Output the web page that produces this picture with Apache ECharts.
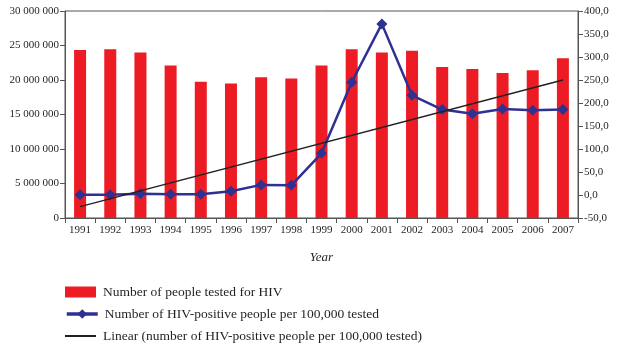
<!DOCTYPE html>
<html>
<head>
<meta charset="utf-8">
<script src="https://cdn.jsdelivr.net/npm/echarts@6/dist/echarts.min.js"></script>
<style>
html,body{margin:0;padding:0;background:#fff;}
#chart{width:620px;height:352px;}
</style>
</head>
<body>
<div id="chart"></div>
<script>
var years = ['1991','1992','1993','1994','1995','1996','1997','1998','1999','2000','2001','2002','2003','2004','2005','2006','2007'];
var testedCounts = [24350000,24450000,24000000,22100000,19750000,19500000,20400000,20200000,22100000,24450000,24000000,24250000,21900000,21600000,21000000,21400000,23150000];
var positivePer100k = [0.5,0.5,2.5,1.5,1.5,8,22,21,90.6,245,372,216.7,185.8,176.5,187,184,185.8];
var trendYears = ['1991','2007'];
var trendValues = [-25.5, 250];
var seriesNames = ['Number of people tested for HIV','Number of HIV-positive people per 100,000 tested','Linear (number of HIV-positive people per 100,000 tested)'];

var FONT = 'Liberation Serif';
var chart = echarts.init(document.getElementById('chart'), null, {renderer:'canvas'});
var axisCol = '#555';
var legTxt = {fontFamily:FONT,fontSize:13.5,color:'#231f20',padding:[0,0,0,2]};
chart.setOption({
  animation:false,
  backgroundColor:'#fff',
  textStyle:{fontFamily:FONT},
  grid:{left:65,right:42,top:11,bottom:134,show:true,borderColor:axisCol,borderWidth:1},
  legend:[
    {left:60,top:280,itemWidth:31,itemHeight:11,textStyle:legTxt,
     data:[{name:seriesNames[0],icon:'rect'}]},
    {left:60,top:302,itemWidth:31,itemHeight:12,textStyle:legTxt,
     lineStyle:{width:3.5},
     data:[{name:seriesNames[1]}]},
    {left:60,top:324,itemWidth:31,itemHeight:2,textStyle:legTxt,
     data:[{name:seriesNames[2],icon:'rect'}]}
  ],
  xAxis:{
    type:'category',data:years,boundaryGap:true,
    name:'Year',nameLocation:'middle',nameGap:33,
    nameTextStyle:{fontFamily:FONT,fontSize:13,fontStyle:'italic',color:'#231f20'},
    axisLine:{lineStyle:{color:axisCol,width:1}},
    axisTick:{show:true,alignWithLabel:false,length:5,lineStyle:{color:axisCol}},
    axisLabel:{fontFamily:FONT,fontSize:11,color:'#231f20',margin:7,interval:0}
  },
  yAxis:[{
    type:'value',min:0,max:30000000,interval:5000000,position:'left',
    splitLine:{show:false},
    axisLine:{show:true,lineStyle:{color:axisCol}},
    axisTick:{show:true,length:5,lineStyle:{color:axisCol}},
    axisLabel:{fontFamily:FONT,fontSize:11,color:'#231f20',margin:6,
      formatter:function(v){return String(v).replace(/\B(?=(\d{3})+(?!\d))/g,' ');}}
  },{
    type:'value',min:-50,max:400,interval:50,position:'right',
    splitLine:{show:false},
    axisLine:{show:true,lineStyle:{color:axisCol}},
    axisTick:{show:true,length:5,lineStyle:{color:axisCol}},
    axisLabel:{fontFamily:FONT,fontSize:11,color:'#231f20',margin:6,
      formatter:function(v){return v.toFixed(1).replace('.',',');}}
  }],
  series:[{
    name:seriesNames[0],type:'bar',yAxisIndex:0,data:testedCounts,barWidth:12,
    itemStyle:{color:'#ed1c24'}
  },{
    name:seriesNames[1],type:'line',yAxisIndex:1,data:positivePer100k,
    symbol:'diamond',symbolSize:11,
    lineStyle:{color:'#2e3192',width:2.5},itemStyle:{color:'#2e3192'},z:3
  },{
    name:seriesNames[2],type:'line',yAxisIndex:1,
    data:trendYears.map(function(y,i){return [y,trendValues[i]];}),
    symbol:'none',lineStyle:{color:'#231f20',width:1.3},itemStyle:{color:'#231f20'},z:4
  }]
});
</script>
</body>
</html>
